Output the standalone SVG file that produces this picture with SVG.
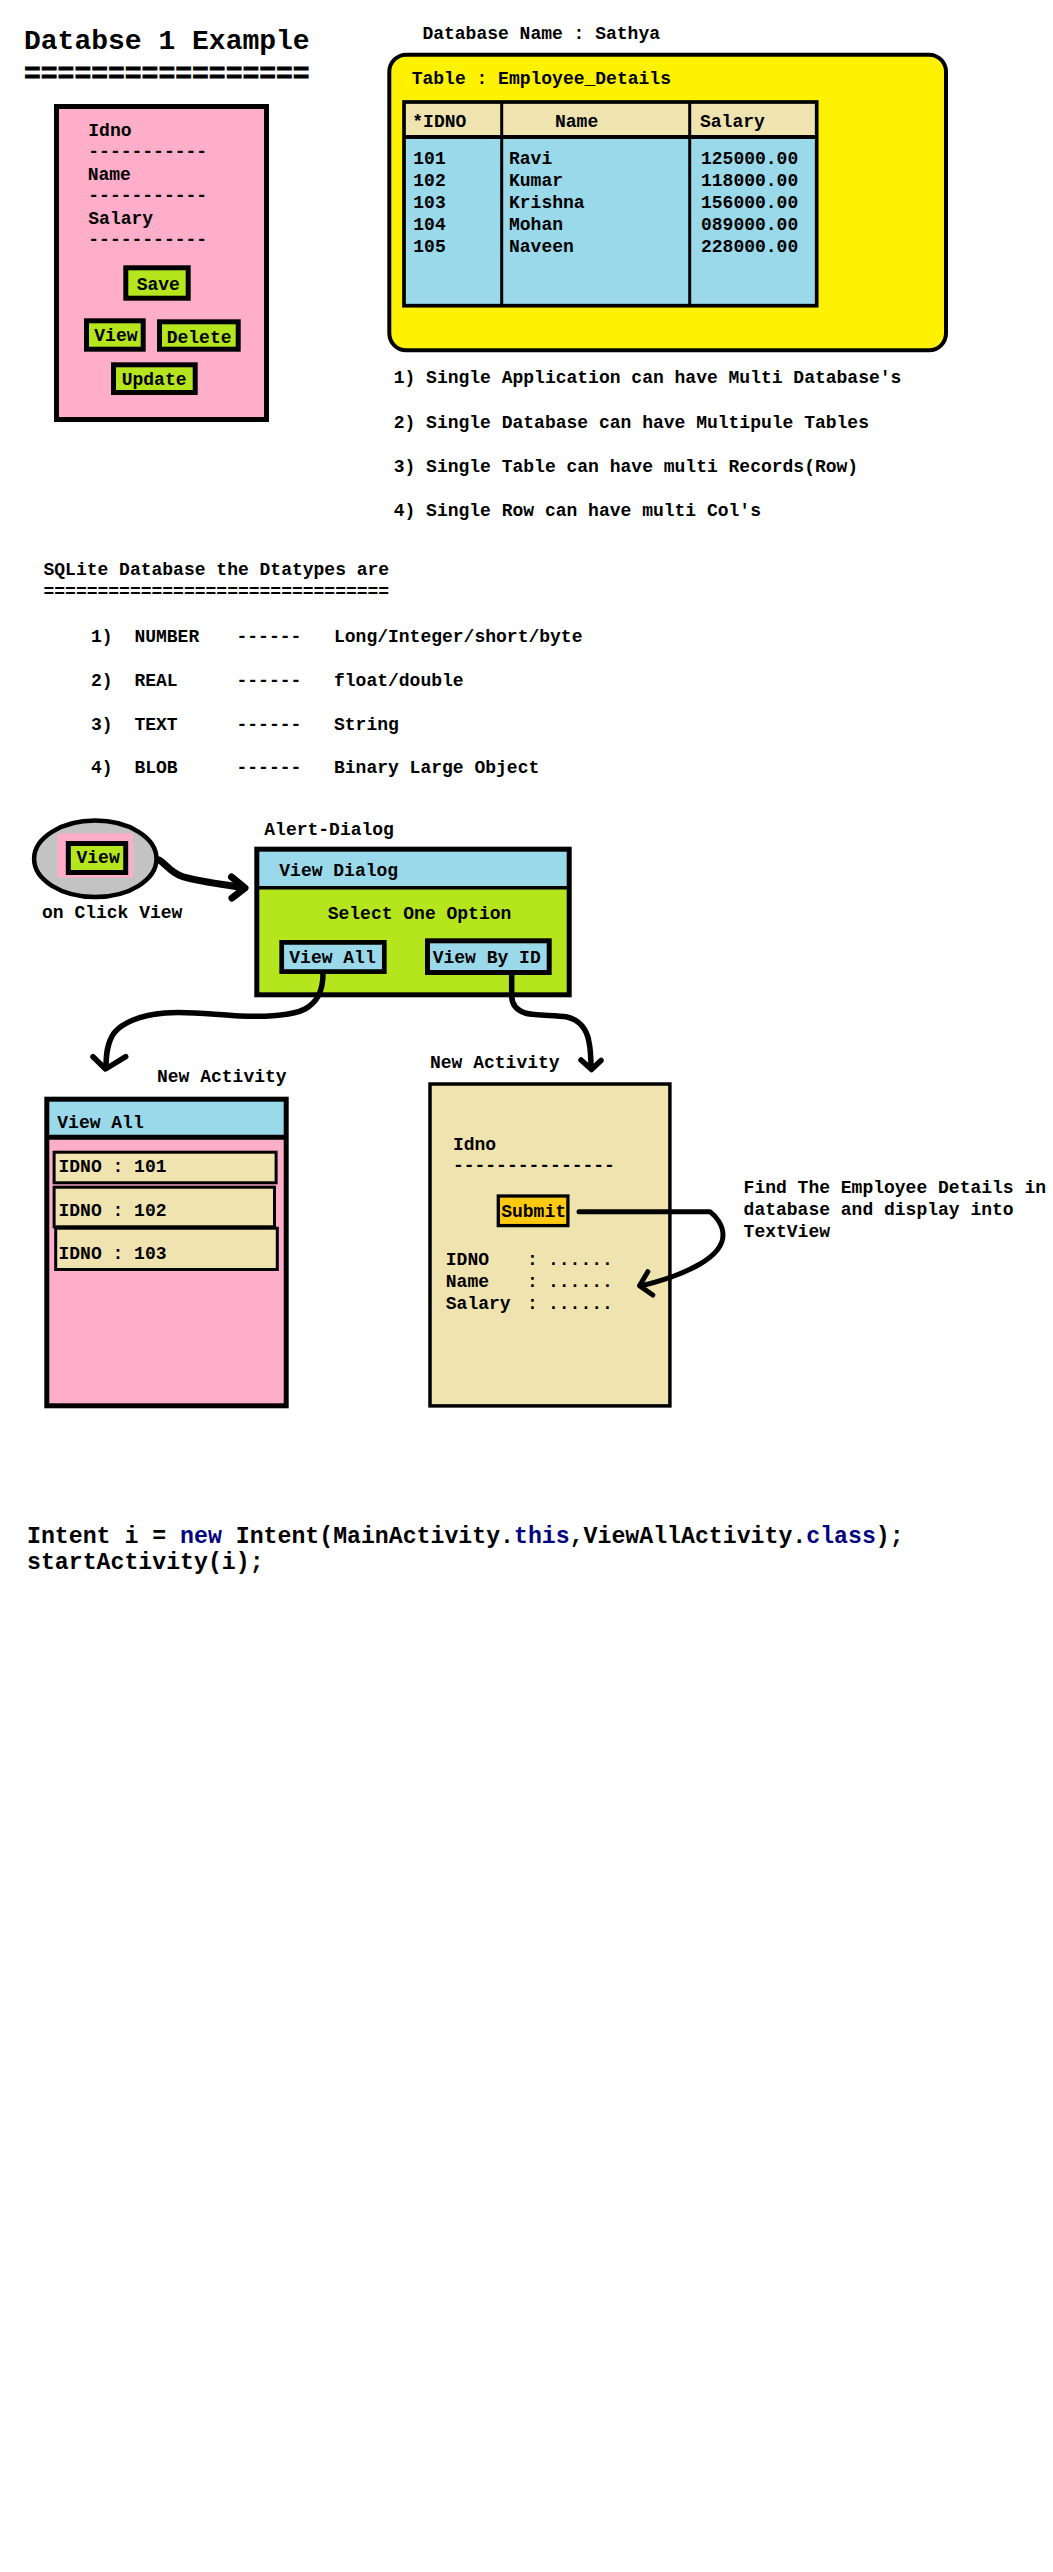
<svg xmlns="http://www.w3.org/2000/svg" width="1053" height="2572" viewBox="0 0 1053 2572" xml:space="preserve">
<style>
.t{font-family:"Liberation Mono","Courier New",monospace;font-weight:bold;font-size:18px;fill:#000}
.title{font-size:28px}
.code{font-size:23.2px}
.kw{fill:#000080}
.bd{stroke:#000}
.pink{fill:#ffaec9}
.green{fill:#b5e61d}
.blue{fill:#99d9ea}
.tan{fill:#efe4b0}
.yellow{fill:#fff200}
.orange{fill:#ffc90e}
.gray{fill:#c3c3c3}
.conn{fill:none;stroke:#000;stroke-linecap:round;stroke-linejoin:round}
</style>
<rect width="1053" height="2572" fill="#fff"/>

<g id="title">
<text class="t title" x="24" y="49.3">Databse 1 Example</text>
<text class="t title" x="24" y="81.7" stroke="#000" stroke-width="0.8">=================</text>
</g>

<g id="main-screen">
<rect class="pink bd" x="56.5" y="106.5" width="210" height="313" stroke-width="5"/>
<text class="t" x="88.3" y="136">Idno</text>
<text class="t" x="88.3" y="157">-----------</text>
<text class="t" x="87.7" y="180">Name</text>
<text class="t" x="88.3" y="201">-----------</text>
<text class="t" x="88.3" y="224">Salary</text>
<text class="t" x="88.3" y="245">-----------</text>
</g>
<g id="btn-save">
<rect class="green bd" x="125.8" y="267.8" width="62.4" height="30.4" stroke-width="5"/>
<text class="t" x="136.7" y="290">Save</text>
</g>
<g id="btn-view">
<rect class="green bd" x="86.5" y="320.8" width="56.7" height="28.4" stroke-width="5"/>
<text class="t" x="94.3" y="340.7">View</text>
</g>
<g id="btn-delete">
<rect class="green bd" x="159.5" y="321.8" width="78.7" height="27.4" stroke-width="5"/>
<text class="t" x="166.7" y="342.7">Delete</text>
</g>
<g id="btn-update">
<rect class="green bd" x="113.5" y="364.8" width="81.7" height="27.7" stroke-width="5"/>
<text class="t" x="121.7" y="385">Update</text>
</g>

<g id="database">
<text class="t" x="422.4" y="39">Database Name : Sathya</text>
<rect class="yellow bd" x="389.3" y="54.7" width="556.7" height="295.6" rx="17" stroke-width="4"/>
<text class="t" x="411.7" y="84">Table : Employee_Details</text>
</g>
<g id="table">
<rect class="tan" x="404" y="102" width="412.7" height="35"/>
<rect class="blue" x="404" y="137" width="412.7" height="168.7"/>
<line class="bd" x1="404" y1="137" x2="816.7" y2="137" stroke-width="4"/>
<line class="bd" x1="501.7" y1="102" x2="501.7" y2="305.7" stroke-width="3"/>
<line class="bd" x1="689.7" y1="102" x2="689.7" y2="305.7" stroke-width="3"/>
<rect class="bd" x="404" y="102" width="412.7" height="203.7" fill="none" stroke-width="3.7"/>
<text class="t" x="412.3" y="127.3">*IDNO</text>
<text class="t" x="555" y="127.3">Name</text>
<text class="t" x="700" y="127.3">Salary</text>
<text class="t" x="413.3" y="164.3">101</text>
<text class="t" x="413.3" y="186.3">102</text>
<text class="t" x="413.3" y="208.3">103</text>
<text class="t" x="413.3" y="230">104</text>
<text class="t" x="413.3" y="252.3">105</text>
<text class="t" x="509" y="164.3">Ravi</text>
<text class="t" x="509" y="186.3">Kumar</text>
<text class="t" x="509" y="208.3">Krishna</text>
<text class="t" x="509" y="230">Mohan</text>
<text class="t" x="509" y="252.3">Naveen</text>
<text class="t" x="701" y="164.3">125000.00</text>
<text class="t" x="701" y="186.3">118000.00</text>
<text class="t" x="701" y="208.3">156000.00</text>
<text class="t" x="701" y="230">089000.00</text>
<text class="t" x="701" y="252.3">228000.00</text>
</g>

<g id="rules">
<text class="t" x="393.7" y="383.3">1) Single Application can have Multi Database's</text>
<text class="t" x="393.7" y="428.3">2) Single Database can have Multipule Tables</text>
<text class="t" x="393.7" y="471.7">3) Single Table can have multi Records(Row)</text>
<text class="t" x="393.7" y="515.7">4) Single Row can have multi Col's</text>
</g>

<g id="datatypes">
<text class="t" x="43.5" y="575">SQLite Database the Dtatypes are</text>
<text class="t" x="43.5" y="597">================================</text>
<text class="t" x="91" y="641.7">1)</text><text class="t" x="134.4" y="641.7">NUMBER</text><text class="t" x="236.5" y="641.7">------</text><text class="t" x="334" y="641.7">Long/Integer/short/byte</text>
<text class="t" x="91" y="686">2)</text><text class="t" x="134.4" y="686">REAL</text><text class="t" x="236.5" y="686">------</text><text class="t" x="334" y="686">float/double</text>
<text class="t" x="91" y="730">3)</text><text class="t" x="134.4" y="730">TEXT</text><text class="t" x="236.5" y="730">------</text><text class="t" x="334" y="730">String</text>
<text class="t" x="91" y="773.3">4)</text><text class="t" x="134.4" y="773.3">BLOB</text><text class="t" x="236.5" y="773.3">------</text><text class="t" x="334" y="773.3">Binary Large Object</text>
</g>

<g id="click-view">
<ellipse class="gray bd" cx="95.3" cy="858.8" rx="61.2" ry="38.2" stroke-width="4.5"/>
<rect class="pink" x="57.4" y="833.3" width="75.4" height="44.4"/>
<rect class="green bd" x="68.3" y="843.5" width="57.4" height="29" stroke-width="5"/>
<text class="t" x="76.5" y="863.3">View</text>
<text class="t" x="42" y="917.7">on Click View</text>
</g>

<g id="alert-dialog">
<text class="t" x="264.3" y="835">Alert-Dialog</text>
<rect class="green" x="256.8" y="849.2" width="312.4" height="145.6"/>
<rect class="blue" x="256.8" y="849.2" width="312.4" height="38.5"/>
<line class="bd" x1="256.8" y1="887.7" x2="569.2" y2="887.7" stroke-width="3.5"/>
<rect class="bd" x="256.8" y="849.2" width="312.4" height="145.6" fill="none" stroke-width="5"/>
<text class="t" x="279.3" y="876">View Dialog</text>
<text class="t" x="327.7" y="919.3">Select One Option</text>
</g>
<g id="btn-view-all">
<rect class="blue bd" x="281.7" y="942.4" width="102.6" height="29.2" stroke-width="4.7"/>
<text class="t" x="289.3" y="963.3">View All</text>
</g>
<g id="btn-view-by-id">
<rect class="blue bd" x="427.5" y="940.8" width="121.7" height="31.7" stroke-width="5"/>
<text class="t" x="432.7" y="963.3">View By ID</text>
</g>

<g id="view-all-activity">
<text class="t" x="157" y="1081.7">New Activity</text>
<rect class="pink" x="46.8" y="1099.2" width="239.4" height="306.6"/>
<rect class="blue" x="46.8" y="1099.2" width="239.4" height="38.1"/>
<line class="bd" x1="46.8" y1="1137.3" x2="286.2" y2="1137.3" stroke-width="5"/>
<rect class="bd" x="46.8" y="1099.2" width="239.4" height="306.6" fill="none" stroke-width="5"/>
<text class="t" x="57.3" y="1127.7">View All</text>
<rect class="tan bd" x="54.1" y="1152.2" width="222" height="30.6" stroke-width="3"/>
<text class="t" x="58.5" y="1171.7">IDNO : 101</text>
<rect class="tan bd" x="54.1" y="1187.2" width="220.4" height="39.6" stroke-width="3"/>
<text class="t" x="58.5" y="1215.7">IDNO : 102</text>
<rect class="tan bd" x="55.7" y="1228.2" width="221.6" height="41.3" stroke-width="3"/>
<text class="t" x="58.5" y="1259.3">IDNO : 103</text>
</g>

<g id="view-by-id-activity">
<text class="t" x="430" y="1068.3">New Activity</text>
<rect class="tan bd" x="430" y="1084" width="239.9" height="321.9" stroke-width="3.5"/>
<text class="t" x="452.9" y="1150">Idno</text>
<text class="t" x="452.9" y="1171">---------------</text>
<text class="t" x="445.8" y="1265">IDNO</text><text class="t" x="527" y="1265">:</text><text class="t" x="548" y="1265">......</text>
<text class="t" x="445.8" y="1286.7">Name</text><text class="t" x="527" y="1286.7">:</text><text class="t" x="548" y="1286.7">......</text>
<text class="t" x="445.8" y="1308.7">Salary</text><text class="t" x="527" y="1308.7">:</text><text class="t" x="548" y="1308.7">......</text>
</g>
<g id="btn-submit">
<rect class="orange bd" x="498.3" y="1196" width="69.6" height="29.6" stroke-width="3.3"/>
<text class="t" x="501.2" y="1216.7">Submit</text>
</g>

<g id="note">
<text class="t" x="743.6" y="1193.3">Find The Employee Details in</text>
<text class="t" x="743.6" y="1215">database and display into</text>
<text class="t" x="743.6" y="1236.7">TextView</text>
</g>

<g id="connectors">
<path class="conn" stroke-width="7" d="M159,860 C166,864 170,872 181,876 C195,881 215,883 244,888"/>
<path class="conn" stroke-width="7" d="M231.5,877 L245,888 L232,898"/>
<path class="conn" stroke-width="5.5" d="M323,974 C323,990 318,1002 305,1009 C292,1016 262,1017 240,1016 C215,1015 190,1011 165,1013 C140,1015 122,1023 114,1033 C107,1043 106,1055 106,1068"/>
<path class="conn" stroke-width="5.5" d="M93,1056.7 L105.5,1069 L125.7,1056.7"/>
<path class="conn" stroke-width="5.5" d="M511.7,975 L511.7,996.7 C512,1004 516,1010 525,1013 C535,1016 555,1015 567,1017 C580,1020 587,1030 589,1042 C591,1052 591,1060 591,1068"/>
<path class="conn" stroke-width="5.5" d="M581,1060 L591.5,1069.5 L601,1060.5"/>
<path class="conn" stroke-width="5" d="M579,1211.7 L710,1211.7 C716,1216 723,1225 723,1235 C723,1248 712,1257 700,1264 C685,1273 665,1280 641,1286"/>
<path class="conn" stroke-width="5" d="M647.8,1271.7 L639.5,1285.7 L652.8,1295"/>
</g>

<g id="code">
<text class="t code" x="27" y="1542.7">Intent i = <tspan class="kw">new</tspan> Intent(MainActivity.<tspan class="kw">this</tspan>,ViewAllActivity.<tspan class="kw">class</tspan>);</text>
<text class="t code" x="27" y="1569.3">startActivity(i);</text>
</g>
</svg>
